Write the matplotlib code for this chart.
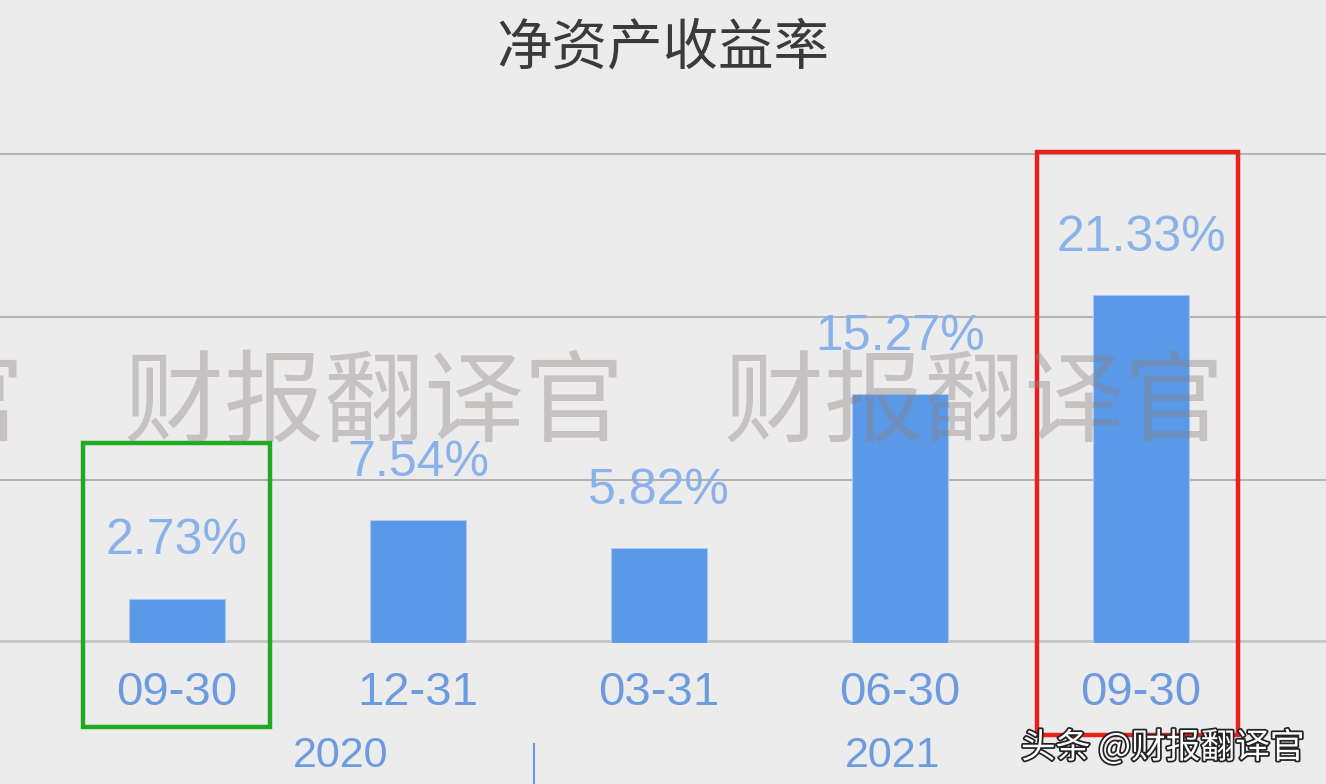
import matplotlib
matplotlib.use("Agg")
import matplotlib.pyplot as plt
from matplotlib.patches import Rectangle
import matplotlib.patheffects as pe

plt.rcParams['font.family'] = ['Liberation Sans', 'Noto Sans CJK SC', 'DejaVu Sans']

# data
dates = ["09-30", "12-31", "03-31", "06-30", "09-30"]
roe = [2.73, 7.54, 5.82, 15.27, 21.33]
years = ["2020", "2021"]
year_pos = [0.68, 2.97]
year_split = 1.48
grid_vals = [10, 20, 30]

bg = "#ececec"
bar_c = "#5a99e8"
lbl_c = "#8ab2ea"
tick_c = "#6d9be0"

fig = plt.figure(figsize=(13.26, 7.84), dpi=100, facecolor=bg)
ax = fig.add_axes([0, 0.1798, 1, 0.6237])
ax.set_facecolor(bg)
x = list(range(len(roe)))
ax.bar(x, roe, width=0.4, color=bar_c, edgecolor="#a9c8f0", linewidth=0.8, zorder=3)
ax.set_xlim(-0.734, 4.768)
ax.set_ylim(0, 30)

for g in grid_vals:
    ax.axhline(g, color="#b4b4b4", lw=1.5, zorder=1, clip_on=False)
ax.axhline(0, color="#c8c8c8", lw=5, zorder=2)

for s in ax.spines.values():
    s.set_visible(False)
ax.set_yticks([])
ax.set_xticks(x)
ax.set_xticklabels(dates, fontsize=34, color=tick_c)
ax.tick_params(axis="x", length=0, pad=20)

for i, v in enumerate(roe):
    ax.annotate(f"{v:.2f}%", (i, v), xytext=(0, 41.5), textcoords="offset points",
                ha="center", va="center", fontsize=36, color=lbl_c, zorder=5)

for yr, p in zip(years, year_pos):
    ax.text(p, -6.9, yr, ha="center", va="center", fontsize=31, color=tick_c, clip_on=False)
ax.plot([year_split, year_split], [-6.2, -9], color=tick_c, lw=1.5, clip_on=False)

# highlight boxes
ax.add_patch(Rectangle((-0.39, -5.15), 0.776, 17.42, fill=False, ec="#1faa1f", lw=3.2,
                       clip_on=False, zorder=6))
ax.add_patch(Rectangle((3.568, -5.64), 0.834, 35.76, fill=False, ec="#e8221a", lw=3.2,
                       clip_on=False, zorder=6))

fig.text(0.5, 0.938, "净资产收益率", ha="center", va="center", fontsize=40,
         color="#3a3a3a", family=["Noto Sans CJK SC"], weight="light")

# watermark
fig.text(-0.057, 0.483, "官　财报翻译官　财报翻译官　财", ha="left", va="center",
         fontsize=72, color="#8c8080", alpha=0.38, family=["Noto Sans CJK SC"], zorder=10)

fig.text(0.984, 0.046, "头条 @财报翻译官", ha="right", va="center", fontsize=25,
         color="white", family=["Noto Sans CJK SC", "DejaVu Sans"],
         path_effects=[pe.withStroke(linewidth=2.5, foreground="#222222")], zorder=11)

fig.savefig("out.png", dpi=100, facecolor=bg)
